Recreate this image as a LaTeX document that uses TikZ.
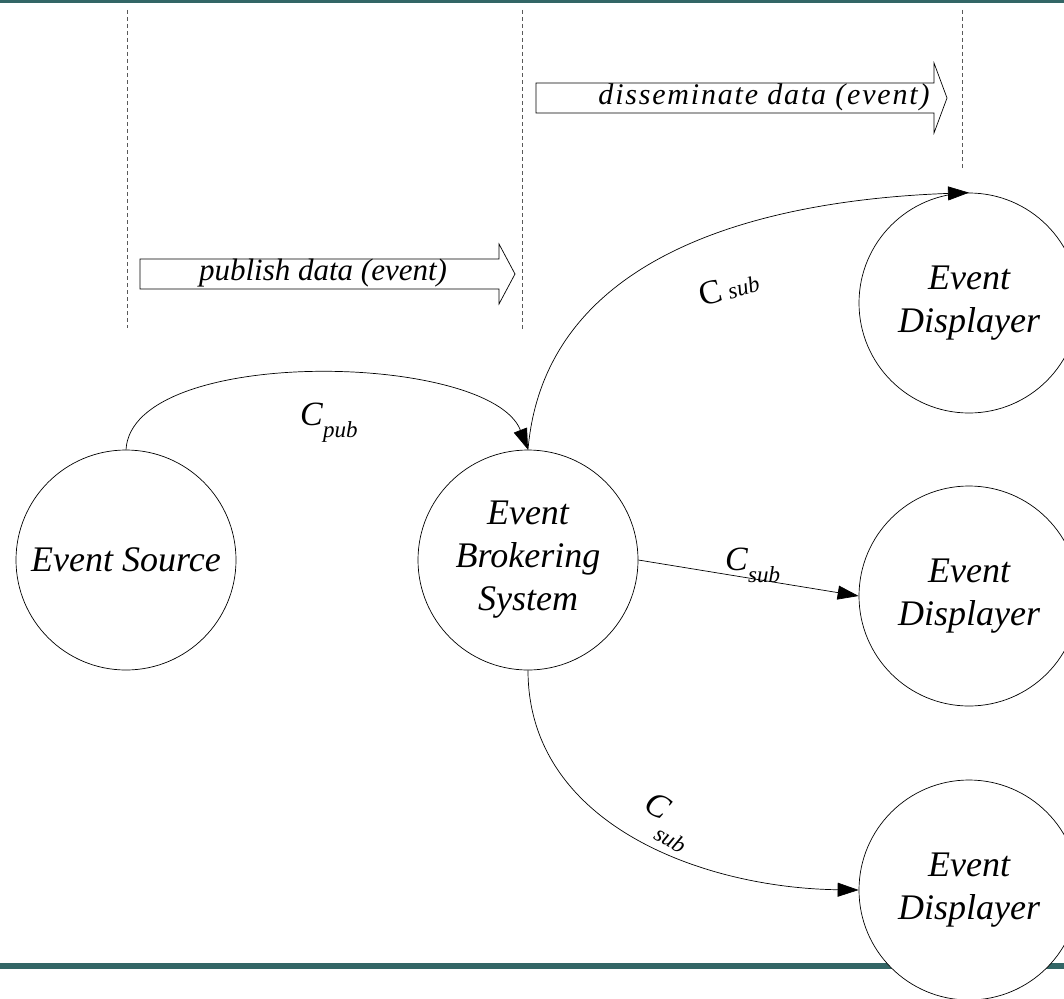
\documentclass[tikz,border=0pt]{standalone}
\usepackage{fontspec}
\setmainfont{Liberation Serif}
\usetikzlibrary{arrows.meta}

\definecolor{barteal}{RGB}{51,102,102}
\newcommand{\circfont}{\fontsize{36}{43}\selectfont\itshape}
\newcommand{\subsz}{\fontsize{23}{23}\selectfont\itshape}
\newcommand{\conlabel}[2][12pt]{\textit{C}\raisebox{-#1}{\subsz #2}}

\begin{document}
\begin{tikzpicture}[x=1pt, y=-1pt,
    proc/.style={draw, circle, fill=white, line width=0.7pt, minimum size=220pt,
                 inner sep=0pt, align=center, font=\circfont},
    flow/.style={-{Triangle[length=21pt, width=14pt]}, line width=0.7pt},
    guide/.style={dash pattern=on 4pt off 3pt, line width=0.6pt, black!65},
    blockarrow/.style={draw, fill=white, line width=0.7pt},
    lbl/.style={inner sep=0pt, font=\fontsize{34}{34}\selectfont}]

    \useasboundingbox (0,0) rectangle (1064,998);

    \fill[barteal] (0,0) rectangle (1064,3);
    \fill[barteal] (0,963) rectangle (1064,969);

    % time lines
    \draw[guide] (127,10) -- (127,328);
    \draw[guide] (522,10) -- (522,330);
    \draw[guide] (962,10) -- (962,168);

    % block arrows
    \draw[blockarrow] (140,259) -- (499,259) -- (499,244) -- (515,274)
        -- (499,304) -- (499,289) -- (140,289) -- cycle;
    \node[font=\fontsize{31}{31}\selectfont\itshape] (pubtxt) at (323,273)
        {publish data (event)};

    \draw[blockarrow] (536,83) -- (934,83) -- (934,63) -- (947,98)
        -- (934,133) -- (934,113) -- (536,113) -- cycle;
    \node[font=\fontsize{30}{30}\selectfont\itshape\addfontfeature{LetterSpace=6}]
        (distxt) at (764,97) {disseminate data (event)};

    \node[proc] (src) at (126,560) {Event Source};
    \node[proc] (brk) at (528,560) {Event\\Brokering\\System};
    \node[proc] (disp1) at (969,303) {Event\\Displayer};
    \node[proc] (disp2) at (969,596) {Event\\Displayer};
    \node[proc] (disp3) at (969,890) {Event\\Displayer};

    \draw[flow] (src.north) .. controls (132,345) and (490,352) .. (brk.north);
    \draw[flow] (brk.north) .. controls (545,251) and (768,200) .. (disp1.north);
    \draw[flow] (brk.east) -- (disp2.west);
    \draw[flow] (brk.south) .. controls (528,825) and (704,888) .. (disp3.west);

    \node[lbl, anchor=base west] (cpub) at (300,425) {\conlabel{pub}};
    \node[lbl, rotate=15] (csub1) at (729,288) {C\,{\subsz sub}};
    \node[lbl, anchor=base west] (csub2) at (725,570) {\conlabel{sub}};
    \node[lbl, rotate=-30] (csub3) at (667,822) {\conlabel[20pt]{sub}};

\end{tikzpicture}
\end{document}
